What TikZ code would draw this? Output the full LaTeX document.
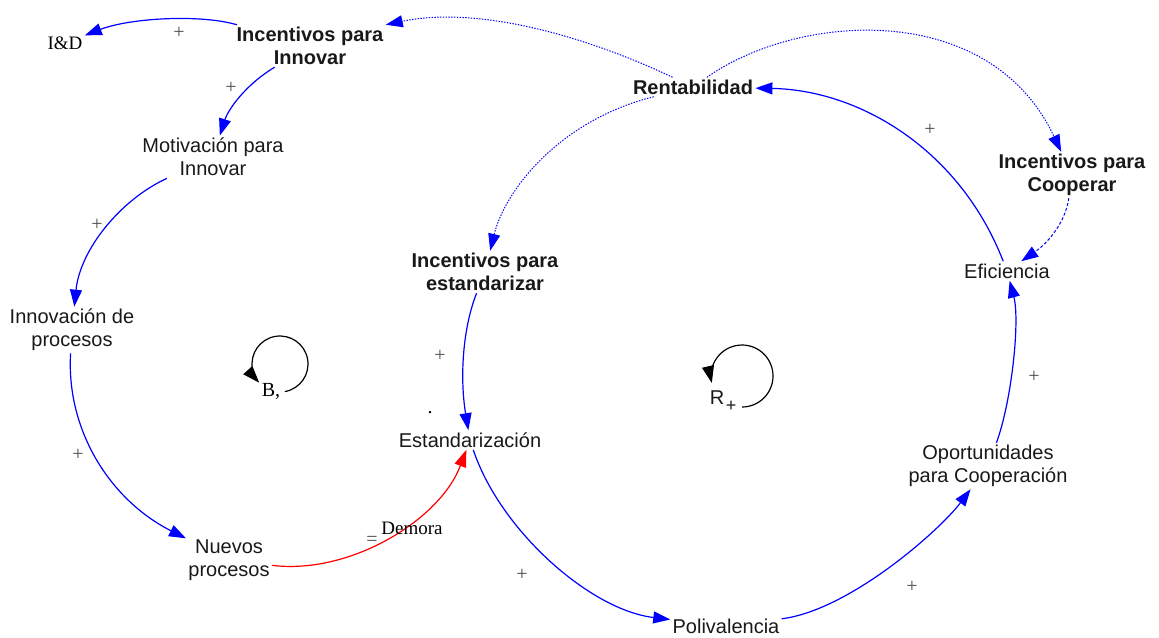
\documentclass[tikz,border=0pt]{standalone}
\usepackage{fontspec}
\setmainfont{Liberation Serif}
\setsansfont{Liberation Sans}
\usetikzlibrary{arrows.meta,calc}
\begin{document}
\begin{tikzpicture}[x=0.5pt,y=-0.5pt,
  var/.style={font=\sffamily\fontsize{10}{11.5}\selectfont, align=center, inner sep=1pt, text=black!90},
  key/.style={var, font=\sffamily\bfseries\fontsize{10}{11.5}\selectfont},
  serif/.style={font=\rmfamily\fontsize{9.5}{11}\selectfont, inner sep=1pt},
  sign/.style={font=\rmfamily\fontsize{10}{12}\selectfont, text=black!70, inner sep=0pt},
  lnk/.style={blue, line width=0.6pt, -{Triangle[length=8.5pt,width=6pt]}},
  dotlnk/.style={lnk, line width=0.5pt, dash pattern=on 0.7pt off 0.7pt},
  dashlnk/.style={lnk, line width=0.5pt, dash pattern=on 1.5pt off 1pt},
  redlnk/.style={lnk, red},
  looparrow/.style={black, line width=0.6pt, -{Triangle[length=8.5pt,width=6pt]}}]
\useasboundingbox (0,0) rectangle (1159,637);

% nodes
\node[serif] (ID) at (65,43) {I\&D};
\node[key] (IInn) at (310,46) {Incentivos para\\Innovar};
\node[key] (Rent) at (693,87) {Rentabilidad};
\node[key] (ICoop) at (1072,175) {Incentivos para\\Cooperar};
\node[var] (Motiv) at (213,157) {Motivación para\\Innovar};
\node[var] (Innov) at (72,330) {Innovación de\\procesos};
\node[key] (IEst) at (485,272) {Incentivos para\\estandarizar};
\node[var] (Efic) at (1007,271) {Eficiencia};
\node[var] (Estand) at (470,440) {Estandarización};
\node[var] (Oport) at (988,466) {Oportunidades\\para Cooperación};
\node[var] (Nuevos) at (229,560) {Nuevos\\procesos};
\node[var] (Poli) at (726,626) {Polivalencia};

% links
\draw[lnk] (IInn) .. controls (200,14) and (130,18) .. (ID);
\draw[lnk] (IInn) .. controls (245,85) and (228,110) .. (Motiv);
\draw[lnk] (Motiv) .. controls (120,200) and (80,250) .. (Innov);
\draw[lnk] (Innov) .. controls (66,430) and (110,500) .. (Nuevos);
\draw[redlnk] (Nuevos) .. controls (350,575) and (440,520) .. (Estand);
\draw[lnk] (IEst) .. controls (462,330) and (460,380) .. (Estand);
\draw[lnk] (Estand) .. controls (500,530) and (590,610) .. (Poli);
\draw[lnk] (Poli) .. controls (850,610) and (940,530) .. (Oport);
\draw[lnk] (Oport) .. controls (1012,400) and (1020,320) .. (Efic);
\draw[lnk] (Efic) .. controls (960,150) and (860,90) .. (Rent);
\draw[dotlnk] (Rent) .. controls (590,38) and (480,5) .. (IInn.north east);
\draw[dotlnk] (Rent) .. controls (800,12) and (990,0) .. (ICoop);
\draw[dotlnk] (Rent) .. controls (560,120) and (505,190) .. (IEst);
\draw[dashlnk] (ICoop) .. controls (1065,225) and (1045,245) .. (Efic);

% signs
\node[sign] (s1) at (179,33) {+};
\node[sign] (s2) at (231,88) {+};
\node[sign] (s3) at (97,225) {+};
\node[sign] (s4) at (78,455) {+};
\node[sign] (s5) at (440,356) {+};
\node[sign] (s6) at (522,575) {+};
\node[sign] (s7) at (912,587) {+};
\node[sign] (s8) at (1034,377) {+};
\node[sign] (s9) at (930,130) {+};
\node[sign] (eq) at (372,541) {=};
\node[serif] (dem) at (412,528) {Demora};
\node[sign, text=black] (pt) at (430,413) {.};

% loops
\coordinate (Bc) at (280,364);
\draw[looparrow] ($(Bc)+(80:28)$) arc[start angle=80, end angle=-222, radius=28];
\node[serif, font=\rmfamily\fontsize{10}{12}\selectfont] (Bl) at (271,391) {B,};
\coordinate (Rc) at (742,376);
\draw[looparrow] ($(Rc)+(90:31)$) arc[start angle=90, end angle=-193, radius=31];
\node[var] (Rl) at (717,398) {R};
\node[var, font=\sffamily\fontsize{9}{10}\selectfont] (Rp) at (731,406) {+};
\end{tikzpicture}
\end{document}
